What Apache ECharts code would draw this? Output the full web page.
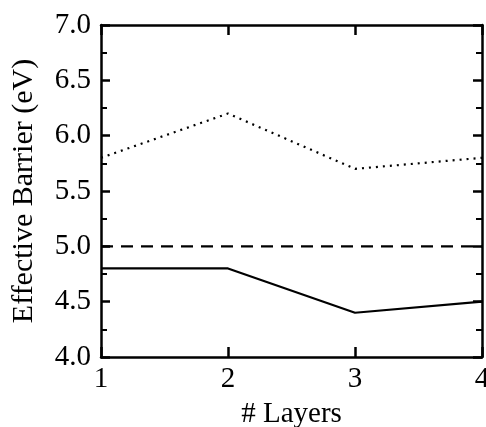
<!DOCTYPE html>
<html>
<head>
<meta charset="utf-8">
<script src="https://cdn.jsdelivr.net/npm/echarts@6/dist/echarts.min.js"></script>
<style>
  html, body { margin: 0; padding: 0; background: #fff; }
  #chart { width: 486px; height: 427px; }
</style>
</head>
<body>
<div id="chart"></div>
<script>
// number of layers
const layers = [1, 2, 3, 4]
// dotted curve (top)
const dottedVals = [5.8, 6.2, 5.7, 5.8]
// dashed reference line
const dashedVals = [5.0, 5.0, 5.0, 5.0]
// solid curve (bottom)
const solidVals = [4.8, 4.8, 4.4, 4.5]

const font = '"Liberation Serif", "Times New Roman", serif'
const black = '#000'

function pairs(vals) {
  return layers.map((x, i) => [x, vals[i]])
}

const chart = echarts.init(document.getElementById('chart'))

const axisLine = { show: true, onZero: false, lineStyle: { color: black, width: 2.5 } }

chart.setOption({
  animation: false,
  grid: { left: 101, right: 4, top: 25, bottom: 70, outerBoundsMode: 'none' },
  xAxis: [
    {
      type: 'value',
      min: 1,
      max: 4,
      interval: 1,
      name: '# Layers',
      nameLocation: 'middle',
      nameGap: 43,
      nameTextStyle: { color: black, fontFamily: font, fontSize: 29 },
      axisLine: axisLine,
      axisTick: { inside: true, length: 10, lineStyle: { color: black, width: 2.5 } },
      axisLabel: {
        color: black, fontFamily: font, fontSize: 29, margin: 8,
        showMinLabel: true, showMaxLabel: true
      },
      splitLine: { show: false }
    },
    {
      type: 'value',
      position: 'top',
      min: 1,
      max: 4,
      interval: 1,
      axisLine: axisLine,
      axisTick: { inside: true, length: 10, lineStyle: { color: black, width: 2.5 } },
      axisLabel: { show: false },
      splitLine: { show: false }
    }
  ],
  yAxis: [
    {
      type: 'value',
      min: 4,
      max: 7,
      interval: 0.5,
      name: 'Effective Barrier (eV)',
      nameLocation: 'middle',
      nameGap: 62,
      nameTextStyle: { color: black, fontFamily: font, fontSize: 30 },
      axisLine: axisLine,
      axisTick: { inside: true, length: 9, lineStyle: { color: black, width: 2.5 } },
      minorTick: { show: true, splitNumber: 2, length: 6, lineStyle: { color: black, width: 2 } },
      axisLabel: {
        color: black, fontFamily: font, fontSize: 29, margin: 10,
        formatter: v => v.toFixed(1)
      },
      splitLine: { show: false }
    },
    {
      type: 'value',
      position: 'right',
      min: 4,
      max: 7,
      interval: 0.5,
      axisLine: axisLine,
      axisTick: { inside: true, length: 9, lineStyle: { color: black, width: 2.5 } },
      minorTick: { show: true, splitNumber: 2, length: 6, lineStyle: { color: black, width: 2 } },
      axisLabel: { show: false },
      splitLine: { show: false }
    }
  ],
  series: [
    {
      type: 'line',
      data: pairs(dottedVals),
      symbol: 'none',
      lineStyle: { color: black, width: 2.2, type: [2, 5] }
    },
    {
      type: 'line',
      data: pairs(dashedVals),
      symbol: 'none',
      lineStyle: { color: black, width: 2.2, type: [12, 8] }
    },
    {
      type: 'line',
      data: pairs(solidVals),
      symbol: 'none',
      lineStyle: { color: black, width: 2.2 }
    }
  ]
})
</script>
</body>
</html>
